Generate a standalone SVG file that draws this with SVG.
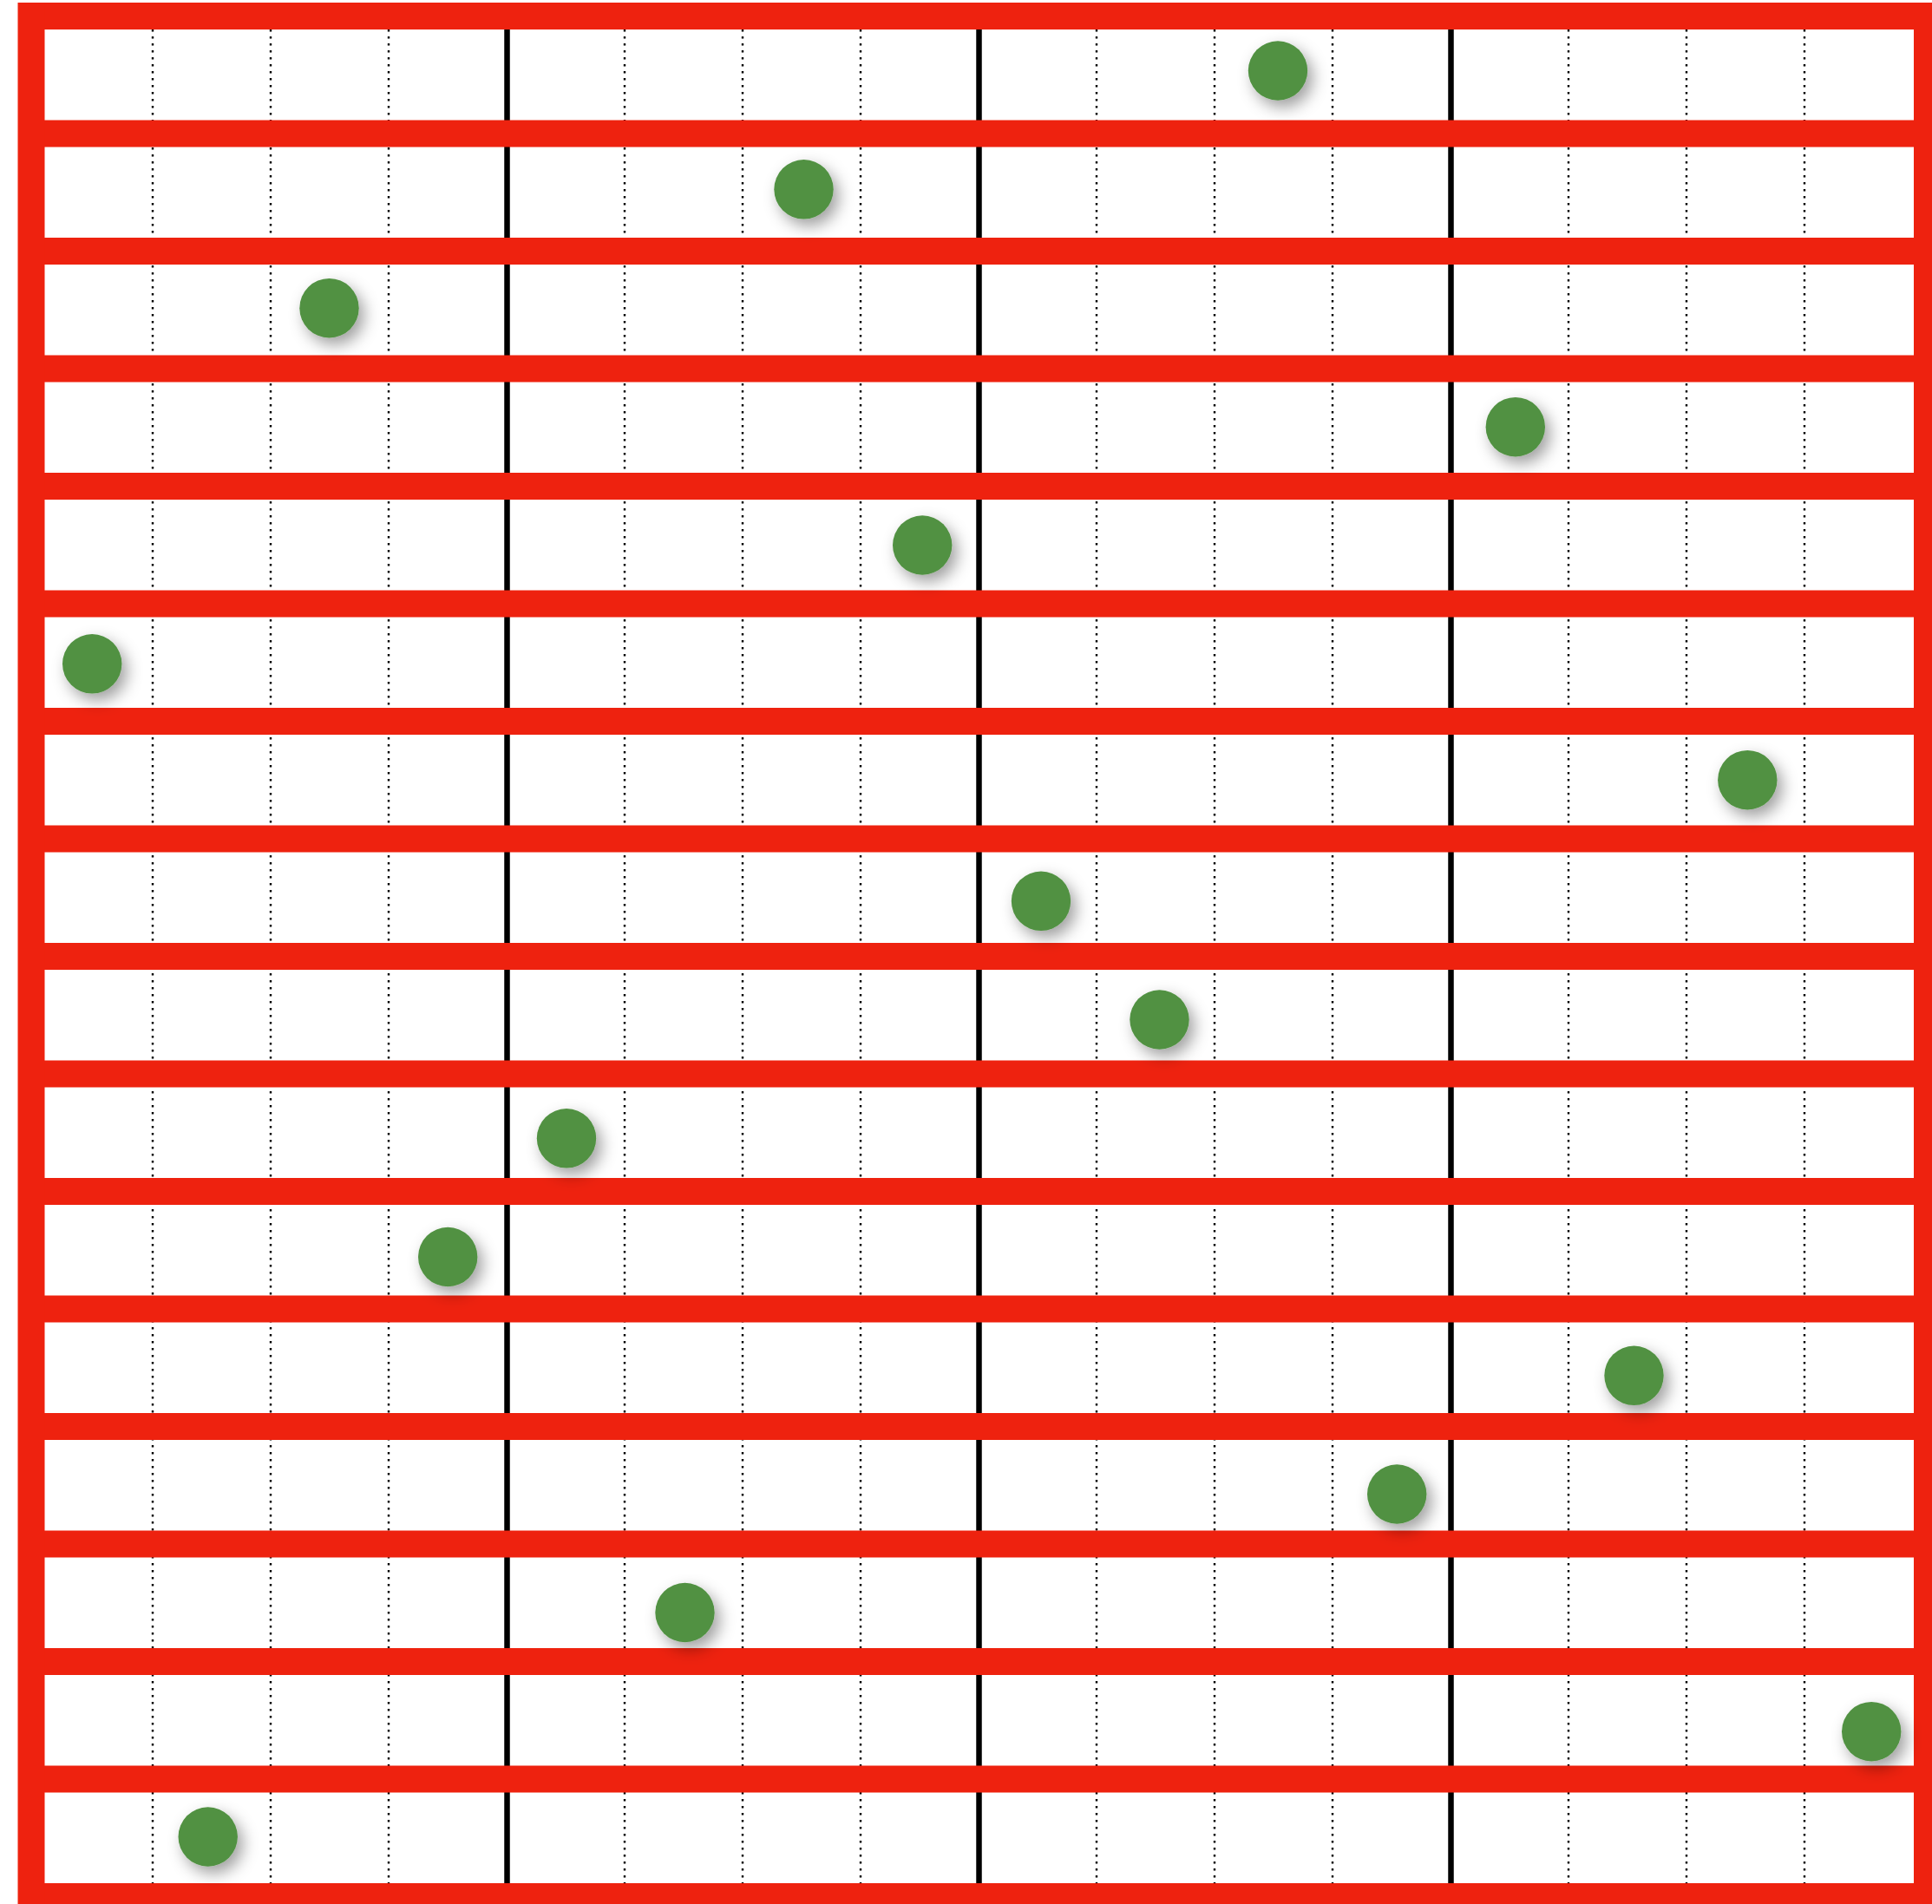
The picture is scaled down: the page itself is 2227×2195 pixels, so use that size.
<svg xmlns="http://www.w3.org/2000/svg" width="2227" height="2195" viewBox="0 0 2227 2195">
<defs>
<style>
.dot{stroke:#000;stroke-width:2.4;stroke-dasharray:2.6 5.4;fill:none}
.maj{stroke:#000;stroke-width:6.5;fill:none}
.band{stroke:#ee220f;stroke-width:31;fill:none}
.pc{fill:#519142;filter:url(#sh)}
</style>
<filter id="sh" x="-80%" y="-80%" width="260%" height="260%">
<feDropShadow dx="6" dy="8" stdDeviation="9" flood-color="#000" flood-opacity="0.38"/>
</filter>
</defs>
<rect width="2227" height="2195" fill="#fff"/>
<g id="grid">
<g id="minor">
<line class="dot" x1="176" y1="34" x2="176" y2="2171"/>
<line class="dot" x1="312" y1="34" x2="312" y2="2171"/>
<line class="dot" x1="448" y1="34" x2="448" y2="2171"/>
<line class="dot" x1="720" y1="34" x2="720" y2="2171"/>
<line class="dot" x1="856" y1="34" x2="856" y2="2171"/>
<line class="dot" x1="992" y1="34" x2="992" y2="2171"/>
<line class="dot" x1="1264" y1="34" x2="1264" y2="2171"/>
<line class="dot" x1="1400" y1="34" x2="1400" y2="2171"/>
<line class="dot" x1="1536" y1="34" x2="1536" y2="2171"/>
<line class="dot" x1="1808" y1="34" x2="1808" y2="2171"/>
<line class="dot" x1="1944" y1="34" x2="1944" y2="2171"/>
<line class="dot" x1="2080" y1="34" x2="2080" y2="2171"/>
</g>
<g id="major">
<line class="maj" x1="584.5" y1="34" x2="584.5" y2="2171"/>
<line class="maj" x1="1128.5" y1="34" x2="1128.5" y2="2171"/>
<line class="maj" x1="1672.5" y1="34" x2="1672.5" y2="2171"/>
</g>
<g id="bands">
<line class="band" x1="21" y1="18.5" x2="2240" y2="18.5"/>
<line class="band" x1="21" y1="154" x2="2240" y2="154"/>
<line class="band" x1="21" y1="289.5" x2="2240" y2="289.5"/>
<line class="band" x1="21" y1="425" x2="2240" y2="425"/>
<line class="band" x1="21" y1="560.5" x2="2240" y2="560.5"/>
<line class="band" x1="21" y1="696" x2="2240" y2="696"/>
<line class="band" x1="21" y1="831.5" x2="2240" y2="831.5"/>
<line class="band" x1="21" y1="967" x2="2240" y2="967"/>
<line class="band" x1="21" y1="1102.5" x2="2240" y2="1102.5"/>
<line class="band" x1="21" y1="1238" x2="2240" y2="1238"/>
<line class="band" x1="21" y1="1373.5" x2="2240" y2="1373.5"/>
<line class="band" x1="21" y1="1509" x2="2240" y2="1509"/>
<line class="band" x1="21" y1="1644.5" x2="2240" y2="1644.5"/>
<line class="band" x1="21" y1="1780" x2="2240" y2="1780"/>
<line class="band" x1="21" y1="1915.5" x2="2240" y2="1915.5"/>
<line class="band" x1="21" y1="2051" x2="2240" y2="2051"/>
<line class="band" x1="21" y1="2186.5" x2="2240" y2="2186.5"/>
<line class="band" x1="36" y1="3" x2="36" y2="2202"/>
<line class="band" x1="2221.5" y1="3" x2="2221.5" y2="2202"/>
</g>
</g>
<g id="connectors"/>
<g id="pieces">
<g id="p1"><circle class="pc" cx="1473" cy="81.5" r="34.2"/></g>
<g id="p2"><circle class="pc" cx="926.5" cy="218.3" r="34.2"/></g>
<g id="p3"><circle class="pc" cx="379.5" cy="355.2" r="34.2"/></g>
<g id="p4"><circle class="pc" cx="1746.8" cy="492.2" r="34.2"/></g>
<g id="p5"><circle class="pc" cx="1063.2" cy="628.5" r="34.2"/></g>
<g id="p6"><circle class="pc" cx="106.2" cy="765.3" r="34.2"/></g>
<g id="p7"><circle class="pc" cx="2014.3" cy="899.2" r="34.2"/></g>
<g id="p8"><circle class="pc" cx="1200" cy="1038.8" r="34.2"/></g>
<g id="p9"><circle class="pc" cx="1336.5" cy="1175.5" r="34.2"/></g>
<g id="p10"><circle class="pc" cx="653" cy="1312.3" r="34.2"/></g>
<g id="p11"><circle class="pc" cx="516.2" cy="1449" r="34.2"/></g>
<g id="p12"><circle class="pc" cx="1883.5" cy="1585.8" r="34.2"/></g>
<g id="p13"><circle class="pc" cx="1610.2" cy="1722.5" r="34.2"/></g>
<g id="p14"><circle class="pc" cx="789.5" cy="1859" r="34.2"/></g>
<g id="p15"><circle class="pc" cx="2157.2" cy="1996.2" r="34.2"/></g>
<g id="p16"><circle class="pc" cx="239.7" cy="2117.5" r="34.2"/></g>
</g>
</svg>
